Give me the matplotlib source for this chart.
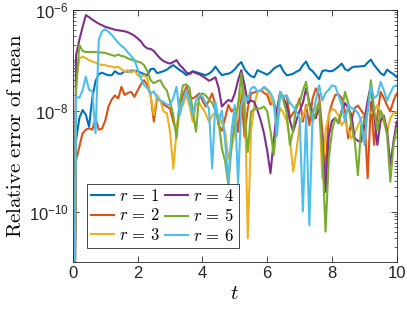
import numpy as np
import matplotlib
matplotlib.use('Agg')
from matplotlib import pyplot as plt
from matplotlib.ticker import FixedLocator, LogLocator, NullFormatter

plt.rcParams['font.family'] = ['Liberation Sans', 'DejaVu Sans']
plt.rcParams['mathtext.fontset'] = 'cm'

t = np.round(np.arange(0, 101) * 0.1, 1)

# log10 of relative error, one value per t step
log_r1 = [-16, -8.58, -8.15, -7.99, -8.08, -8.32, -7.75, -7.42, -7.28, -7.25,
          -7.28, -7.30, -7.30, -7.22, -7.27, -7.27, -7.22, -7.23, -7.21, -7.21,
          -7.22, -7.25, -7.28, -7.30, -7.18, -7.17, -7.26, -7.24, -7.22, -7.19,
          -7.14, -7.10, -7.15, -7.20, -7.24, -7.30, -7.26, -7.22, -7.24, -7.26,
          -7.28, -7.30, -7.27, -7.22, -7.13, -7.22, -7.30, -7.28, -7.27, -7.24,
          -7.18, -7.10, -7.04, -7.18, -7.26, -7.32, -7.34, -7.20, -7.23, -7.26,
          -7.29, -7.24, -7.17, -7.13, -7.10, -7.22, -7.30, -7.29, -7.27, -7.23,
          -7.20, -7.10, -7.03, -7.17, -7.22, -7.30, -7.38, -7.22, -7.20, -7.22,
          -7.22, -7.18, -7.13, -7.07, -7.18, -7.21, -7.15, -7.13, -7.13, -7.12,
          -7.12, -7.05, -6.99, -7.10, -7.18, -7.26, -7.30, -7.19, -7.24, -7.28,
          -7.34]
log_r2 = [-16, -8.98, -8.72, -8.45, -8.38, -8.35, -8.38, -8.15, -8.38, -8.36,
          -8.20, -7.92, -7.78, -7.70, -7.76, -7.53, -7.69, -7.65, -7.63, -7.73,
          -7.60, -7.48, -7.40, -7.50, -7.70, -8.22, -7.76, -7.80, -7.88, -7.92,
          -7.96, -8.22, -8.42, -7.90, -7.69, -7.53, -7.72, -7.76, -7.72, -7.66,
          -7.80, -7.92, -7.80, -7.66, -7.90, -8.29, -8.40, -8.15, -7.89, -8.02,
          -7.95, -8.42, -7.69, -8.52, -7.95, -7.66, -7.64, -7.62, -7.60, -7.65,
          -7.69, -7.88, -7.83, -8.05, -7.66, -7.73, -7.70, -8.15, -8.05, -7.96,
          -7.76, -8.22, -7.89, -8.29, -7.76, -7.56, -7.70, -8.40, -9.21, -8.09,
          -7.85, -7.69, -7.68, -7.75, -8.02, -8.55, -8.20, -7.95, -7.90, -8.00,
          -8.09, -9.34, -7.83, -8.68, -8.10, -7.63, -7.75, -7.90, -8.02, -7.80,
          -7.66]
log_r3 = [-16, -7.40, -6.97, -6.93, -6.96, -7.00, -7.03, -7.05, -7.08, -7.10,
          -7.10, -7.12, -7.13, -7.15, -7.13, -7.18, -7.23, -7.20, -7.25, -7.20,
          -7.30, -7.33, -7.30, -7.36, -7.72, -8.09, -7.69, -7.80, -8.02, -8.05,
          -8.42, -9.15, -8.42, -7.83, -7.89, -7.69, -7.90, -8.22, -7.89, -7.85,
          -7.95, -8.06, -8.22, -8.10, -8.05, -8.09, -8.25, -8.42, -8.95, -8.75,
          -8.40, -7.89, -7.63, -7.50, -10.53, -8.40, -7.89, -7.63, -7.60, -7.56,
          -7.60, -7.75, -7.89, -8.29, -7.95, -8.05, -8.20, -8.55, -9.21, -8.80,
          -8.29, -8.10, -7.95, -7.83, -8.05, -7.95, -7.83, -9.34, -8.40, -8.09,
          -7.96, -8.00, -8.10, -8.29, -8.20, -8.40, -8.55, -8.45, -8.30, -8.15,
          -8.09, -7.98, -8.05, -8.00, -7.89, -8.05, -8.25, -8.42, -8.15, -8.05,
          -8.02]
log_r4 = [-16, -6.90, -6.60, -6.35, -6.11, -6.15, -6.20, -6.24, -6.28, -6.31,
          -6.34, -6.36, -6.38, -6.40, -6.41, -6.42, -6.43, -6.45, -6.48, -6.52,
          -6.57, -6.63, -6.72, -6.77, -6.78, -6.82, -6.90, -6.97, -7.02, -7.05,
          -7.07, -7.04, -7.00, -7.10, -7.16, -7.24, -7.28, -7.23, -7.26, -7.28,
          -7.32, -7.36, -7.41, -7.38, -7.34, -7.55, -7.92, -7.85, -7.79, -7.82,
          -7.66, -7.40, -7.20, -7.50, -7.85, -7.80, -7.83, -8.00, -8.20, -8.45,
          -8.80, -9.24, -8.60, -8.00, -7.63, -7.75, -7.90, -8.20, -8.42, -8.20,
          -8.00, -7.85, -7.56, -7.85, -8.05, -8.15, -7.90, -8.60, -9.61, -8.50,
          -8.20, -8.15, -8.25, -8.00, -7.85, -7.95, -8.09, -8.55, -8.60, -8.62,
          -8.20, -7.80, -7.50, -8.10, -8.68, -8.20, -8.10, -8.40, -9.08, -8.60,
          -8.22]
log_r5 = [-16, -7.59, -6.70, -6.82, -6.84, -6.84, -6.84, -6.84, -6.85, -6.85,
          -6.86, -6.88, -6.90, -6.92, -6.89, -6.92, -6.93, -6.97, -6.99, -7.01,
          -7.03, -7.05, -7.10, -7.22, -7.40, -7.46, -7.42, -7.40, -7.52, -7.60,
          -7.83, -8.09, -8.55, -7.83, -7.50, -7.48, -7.55, -8.00, -8.42, -7.69,
          -7.66, -7.70, -7.78, -7.85, -8.00, -8.22, -8.75, -9.00, -9.48, -8.68,
          -8.20, -7.89, -7.26, -8.09, -8.82, -8.02, -7.98, -7.96, -7.96, -7.92,
          -8.02, -8.40, -8.88, -8.20, -7.63, -7.80, -8.05, -8.68, -8.39, -7.89,
          -7.85, -7.60, -7.43, -7.90, -8.22, -8.05, -7.83, -8.80, -10.40, -8.95,
          -8.40, -8.15, -8.25, -8.00, -7.63, -7.85, -8.30, -8.60, -9.28, -8.29,
          -8.25, -8.00, -7.40, -8.00, -8.40, -8.00, -8.15, -8.50, -9.41, -8.68,
          -8.35]
log_r6 = [-16, -7.72, -7.75, -7.60, -7.33, -7.59, -7.62, -8.45, -6.60, -6.43,
          -6.39, -6.44, -6.50, -6.58, -6.66, -6.72, -6.77, -6.85, -6.92, -7.00,
          -7.18, -7.36, -7.50, -7.55, -7.66, -7.62, -7.75, -7.80, -7.83, -7.88,
          -7.89, -7.75, -7.53, -8.09, -7.83, -7.59, -7.80, -8.09, -7.80, -7.69,
          -7.72, -7.85, -7.96, -9.15, -7.83, -8.20, -8.00, -8.60, -9.41, -8.40,
          -7.89, -9.44, -7.89, -7.70, -7.80, -7.56, -7.53, -7.62, -7.60, -7.53,
          -7.58, -7.65, -7.79, -8.50, -7.63, -7.75, -7.70, -7.85, -7.92, -8.02,
          -8.15, -10.00, -8.09, -10.27, -8.09, -7.80, -7.50, -7.80, -7.65, -7.59,
          -7.50, -7.52, -7.70, -7.89, -8.22, -7.89, -7.95, -7.98, -8.05, -8.20,
          -8.68, -8.00, -7.53, -7.75, -7.70, -7.43, -7.60, -7.80, -7.65, -7.52,
          -7.50]

series = [log_r1, log_r2, log_r3, log_r4, log_r5, log_r6]
labels = [r'$r\,=\,1$', r'$r\,=\,2$', r'$r\,=\,3$', r'$r\,=\,4$', r'$r\,=\,5$', r'$r\,=\,6$']
colors = ['#0072BD', '#D95319', '#EDB120', '#7E2F8E', '#77AC30', '#4DBEEE']

fig = plt.figure(figsize=(4.07, 3.09), dpi=100)
ax = fig.add_axes([0.179, 0.152, 0.796, 0.817])

for s, lab, c in zip(series, labels, colors):
    ax.semilogy(t, 10.0 ** np.array(s), color=c, lw=1.5, label=lab)

ax.set_xlim(0, 10)
ax.set_ylim(1e-11, 1e-6)
ax.set_xticks([0, 2, 4, 6, 8, 10])
ax.yaxis.set_major_locator(FixedLocator([1e-10, 1e-8, 1e-6]))
ax.set_yticklabels([r'$\mathregular{10^{-10}}$', r'$\mathregular{10^{-8}}$', r'$\mathregular{10^{-6}}$'])
ax.yaxis.set_minor_locator(LogLocator(base=10, subs=np.arange(1, 10), numticks=20))
ax.yaxis.set_minor_formatter(NullFormatter())

ax.tick_params(which='both', direction='in', top=True, right=True, colors='#262626', labelsize=12)
ax.tick_params(which='major', length=4, width=0.6, pad=3)
ax.tick_params(which='minor', length=2, width=0.5)
for sp in ax.spines.values():
    sp.set_color('#262626')
    sp.set_linewidth(0.6)

ax.set_xlabel('$t$', fontsize=15, labelpad=2)
ax.set_ylabel(r'$\mathrm{Relative\ error\ of\ mean}$', fontsize=15, labelpad=3)

leg = ax.legend(ncol=2, loc='lower left', bbox_to_anchor=(0.043, 0.056), fontsize=12,
                fancybox=False, edgecolor='#262626', framealpha=1,
                handlelength=1.4, handletextpad=0.3, columnspacing=0.3,
                borderpad=0.25, labelspacing=0.2, borderaxespad=0)
leg.get_frame().set_linewidth(0.6)

plt.savefig('out.png', dpi=100)
